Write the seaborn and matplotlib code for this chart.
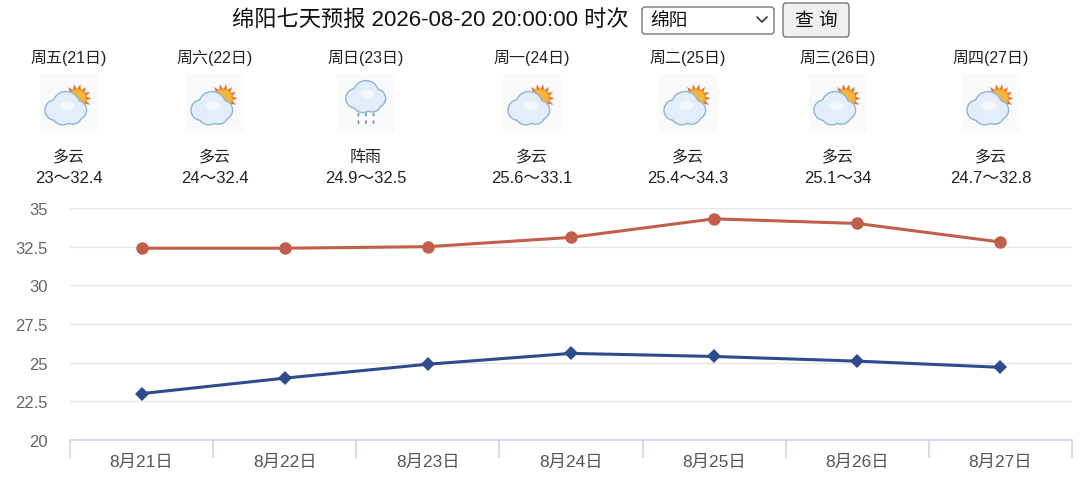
import numpy as np
import pandas as pd
import matplotlib
matplotlib.use("Agg")
import matplotlib.pyplot as plt
import seaborn as sns
from matplotlib.patches import Circle, Ellipse, FancyBboxPatch, Polygon

# data
dates = ["8月21日", "8月22日", "8月23日", "8月24日", "8月25日", "8月26日", "8月27日"]
weekdays = ["周五(21日)", "周六(22日)", "周日(23日)", "周一(24日)", "周二(25日)", "周三(26日)", "周四(27日)"]
weather = ["多云", "多云", "阵雨", "多云", "多云", "多云", "多云"]
high = [32.4, 32.4, 32.5, 33.1, 34.3, 34, 32.8]
low = [23, 24, 24.9, 25.6, 25.4, 25.1, 24.7]
y_ticks = [20, 22.5, 25, 27.5, 30, 32.5, 35]
y_labels = ["20", "22.5", "25", "27.5", "30", "32.5", "35"]
col_centers = [69, 215, 366, 532, 688, 838, 991]  # header columns (px)

sns.set_theme(style="white")
plt.rcParams["font.family"] = ["Liberation Sans", "Noto Sans CJK SC", "DejaVu Sans"]

W, H = 1080, 485
fig = plt.figure(figsize=(W / 100, H / 100), dpi=100)

# chart axes
ax = fig.add_axes([70 / W, (H - 441) / H, 1002 / W, (441 - 209) / H])
df = pd.DataFrame({"date": dates, "high": high, "low": low})
sns.lineplot(data=df, x="date", y="high", ax=ax, color="#c1604a", linewidth=2.2,
             marker="o", markersize=9, markeredgewidth=0, sort=False)
sns.lineplot(data=df, x="date", y="low", ax=ax, color="#2e4b8c", linewidth=2.2,
             marker="D", markersize=7, markeredgewidth=0, sort=False)
ax.set_xlim(-0.5, len(dates) - 0.5)
ax.set_ylim(20, 35)
ax.set_yticks(y_ticks)
ax.set_yticklabels(y_labels)
ax.set_xlabel("")
ax.set_ylabel("")
ax.grid(axis="y", color="#e6e6e6", linewidth=1)
ax.set_axisbelow(True)
for s in ["top", "right", "left"]:
    ax.spines[s].set_visible(False)
ax.spines["bottom"].set_color("#ccd6eb")
ax.spines["bottom"].set_linewidth(1.2)
ax.tick_params(axis="y", length=0, pad=16, labelsize=12, labelcolor="#666666")
ax.tick_params(axis="x", which="major", bottom=True, length=0, pad=10, labelsize=12.5,
               labelcolor="#555555")
ax.set_xticks(np.arange(-0.5, len(dates), 1.0), minor=True)
ax.tick_params(axis="x", which="minor", bottom=True, length=13, width=1.2,
               color="#ccd6eb", direction="out")
for lbl in ax.get_yticklabels():
    lbl.set_horizontalalignment("right")

# overlay in pixel coordinates for the header
ov = fig.add_axes([0, 0, 1, 1], zorder=5)
ov.set_xlim(0, W)
ov.set_ylim(H, 0)
ov.axis("off")
ov.patch.set_alpha(0)

ov.text(430, 20, "绵阳七天预报 2026-08-20 20:00:00 时次", ha="center", va="center",
        fontsize=16, color="#111111")
ov.add_patch(FancyBboxPatch((642, 8), 132, 27, boxstyle="round,pad=0,rounding_size=3",
                            facecolor="white", edgecolor="#767676", linewidth=1))
ov.text(650, 21.5, "绵阳", ha="left", va="center", fontsize=13.5, color="#111111")
ov.plot([757, 762, 767], [18, 23, 18], color="#333333", linewidth=1.2)
ov.add_patch(FancyBboxPatch((783, 4), 66, 34, boxstyle="round,pad=0,rounding_size=3",
                            facecolor="#efefef", edgecolor="#767676", linewidth=1))
ov.text(816, 21, "查 询", ha="center", va="center", fontsize=13.5, color="#111111")

for cx, wd, wt, lo, hi in zip(col_centers, weekdays, weather, low, high):
    ov.text(cx, 58, wd, ha="center", va="center", fontsize=11.5, color="#222222")
    ov.text(cx, 158, wt, ha="center", va="center", fontsize=11.5, color="#222222")
    ov.text(cx, 179, f"{lo:g}～{hi:g}", ha="center", va="center", fontsize=12, color="#222222")


def cloud(iax, cx, cy, s):
    parts = [(-0.17, -0.02, 0.15), (0.0, 0.06, 0.2), (0.17, -0.02, 0.14),
             (-0.05, -0.08, 0.16), (0.1, -0.09, 0.14)]
    for dx, dy, r in parts:
        iax.add_patch(Circle((cx + dx * s, cy + dy * s), r * s + 0.025,
                             facecolor="#8fb6dc", edgecolor="none", zorder=3))
    for dx, dy, r in parts:
        iax.add_patch(Circle((cx + dx * s, cy + dy * s), r * s,
                             facecolor="#e4eefa", edgecolor="none", zorder=4))
    iax.add_patch(Ellipse((cx + 0.02 * s, cy + 0.05 * s), 0.22 * s, 0.14 * s,
                          facecolor="#f4f8fd", edgecolor="none", zorder=5))


def sun(iax, cx, cy, r):
    for a in np.linspace(0, 2 * np.pi, 14, endpoint=False):
        tip = (cx + (r + 0.09) * np.cos(a), cy + (r + 0.09) * np.sin(a))
        b1 = (cx + r * np.cos(a - 0.2), cy + r * np.sin(a - 0.2))
        b2 = (cx + r * np.cos(a + 0.2), cy + r * np.sin(a + 0.2))
        iax.add_patch(Polygon([b1, tip, b2], facecolor="#e8702a", edgecolor="none", zorder=1))
    iax.add_patch(Circle((cx, cy), r, facecolor="#f7b538", edgecolor="#ec8c2a",
                         linewidth=0.8, zorder=2))


for cx, wt in zip(col_centers, weather):
    iax = fig.add_axes([(cx - 29) / W, (H - 133) / H, 58 / W, 58 / H], zorder=6)
    iax.set_xlim(0, 1)
    iax.set_ylim(0, 1)
    iax.axis("off")
    iax.add_patch(plt.Rectangle((0, 0), 1, 1, facecolor="#fafafa", edgecolor="none", zorder=0))
    if wt == "阵雨":
        cloud(iax, 0.5, 0.6, 1.05)
        for dx in (-0.13, 0.0, 0.13):
            for dy in (0.3, 0.17):
                iax.add_patch(Ellipse((0.5 + dx, dy), 0.035, 0.07,
                                      facecolor="#6f9fcf", edgecolor="none", zorder=6))
    else:
        sun(iax, 0.64, 0.58, 0.16)
        cloud(iax, 0.45, 0.4, 1.1)

fig.savefig("out.png", dpi=100)
